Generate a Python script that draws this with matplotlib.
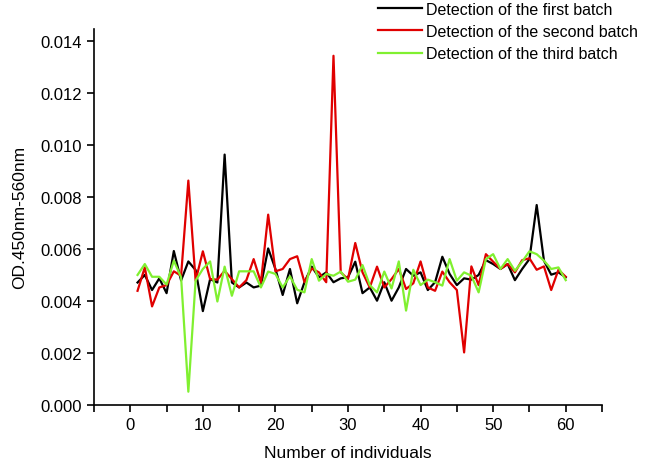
import numpy as np
import matplotlib
matplotlib.use("Agg")
import matplotlib.pyplot as plt
from matplotlib.ticker import MultipleLocator, FormatStrFormatter

plt.rcParams['font.family'] = ['Liberation Sans', 'DejaVu Sans']

individuals = list(range(1, 61))

first_batch = [0.00470, 0.00499, 0.00441, 0.00486, 0.00429, 0.00591, 0.00478, 0.00551, 0.00518, 0.00360,
               0.00483, 0.00470, 0.00962, 0.00470, 0.00451, 0.00470, 0.00451, 0.00458, 0.00601, 0.00522,
               0.00422, 0.00522, 0.00390, 0.00471, 0.00531, 0.00490, 0.00509, 0.00471, 0.00486, 0.00490,
               0.00550, 0.00429, 0.00451, 0.00400, 0.00471, 0.00400, 0.00451, 0.00522, 0.00496, 0.00509,
               0.00441, 0.00471, 0.00569, 0.00503, 0.00460, 0.00486, 0.00481, 0.00499, 0.00556, 0.00541,
               0.00522, 0.00541, 0.00479, 0.00522, 0.00560, 0.00768, 0.00554, 0.00500, 0.00509, 0.00490]

second_batch = [0.00438, 0.00528, 0.00378, 0.00451, 0.00460, 0.00513, 0.00496, 0.00862, 0.00477, 0.00590,
                0.00483, 0.00481, 0.00515, 0.00483, 0.00451, 0.00479, 0.00560, 0.00470, 0.00731, 0.00513,
                0.00522, 0.00560, 0.00571, 0.00471, 0.00524, 0.00509, 0.00471, 0.01342, 0.00509, 0.00483,
                0.00622, 0.00509, 0.00451, 0.00531, 0.00451, 0.00483, 0.00522, 0.00445, 0.00467, 0.00551,
                0.00451, 0.00438, 0.00512, 0.00471, 0.00441, 0.00201, 0.00532, 0.00460, 0.00579, 0.00550,
                0.00522, 0.00541, 0.00509, 0.00556, 0.00563, 0.00519, 0.00532, 0.00441, 0.00519, 0.00492]

third_batch = [0.00499, 0.00541, 0.00492, 0.00492, 0.00462, 0.00554, 0.00490, 0.00050, 0.00477, 0.00522,
               0.00551, 0.00397, 0.00531, 0.00419, 0.00513, 0.00513, 0.00513, 0.00451, 0.00512, 0.00503,
               0.00451, 0.00494, 0.00442, 0.00432, 0.00560, 0.00477, 0.00503, 0.00496, 0.00512, 0.00473,
               0.00481, 0.00537, 0.00460, 0.00432, 0.00512, 0.00447, 0.00551, 0.00362, 0.00519, 0.00460,
               0.00481, 0.00471, 0.00458, 0.00560, 0.00477, 0.00509, 0.00496, 0.00432, 0.00560, 0.00579,
               0.00522, 0.00560, 0.00515, 0.00550, 0.00590, 0.00579, 0.00554, 0.00522, 0.00528, 0.00479]

labels = ["Detection of the first batch", "Detection of the second batch", "Detection of the third batch"]
colors = ["#000000", "#e00000", "#80f030"]

fig = plt.figure(figsize=(6.62, 4.64), dpi=100)
ax = fig.add_axes([94 / 662, 1 - 405.7 / 464, (602 - 94) / 662, (405.7 - 30) / 464])

for data, lab, col in zip([first_batch, second_batch, third_batch], labels, colors):
    ax.plot(individuals, data, color=col, lw=1.6, label=lab)

ax.set_xlim(-5, 65)
ax.set_ylim(0, 0.01445)
ax.xaxis.set_minor_locator(MultipleLocator(5))
ax.yaxis.set_major_locator(MultipleLocator(0.002))
ax.yaxis.set_major_formatter(FormatStrFormatter('%.3f'))
ax.set_xticks([0, 10, 20, 30, 40, 50, 60])
ax.tick_params(which='both', direction='out', length=5, width=1.2, labelsize=12)
ax.spines['top'].set_visible(False)
ax.spines['right'].set_visible(False)
ax.spines['left'].set_linewidth(1.2)
ax.spines['bottom'].set_linewidth(1.2)

ax.set_xlabel("Number of individuals", fontsize=12.5, labelpad=10)
ax.set_ylabel("OD.450nm-560nm", fontsize=12.5, labelpad=10)

fig.legend(loc='upper left', bbox_to_anchor=(364 / 662, 1.025), frameon=False,
           fontsize=11.5, handlelength=2.7, labelspacing=0.45, handletextpad=0.3)

fig.savefig("out.png", dpi=100)
